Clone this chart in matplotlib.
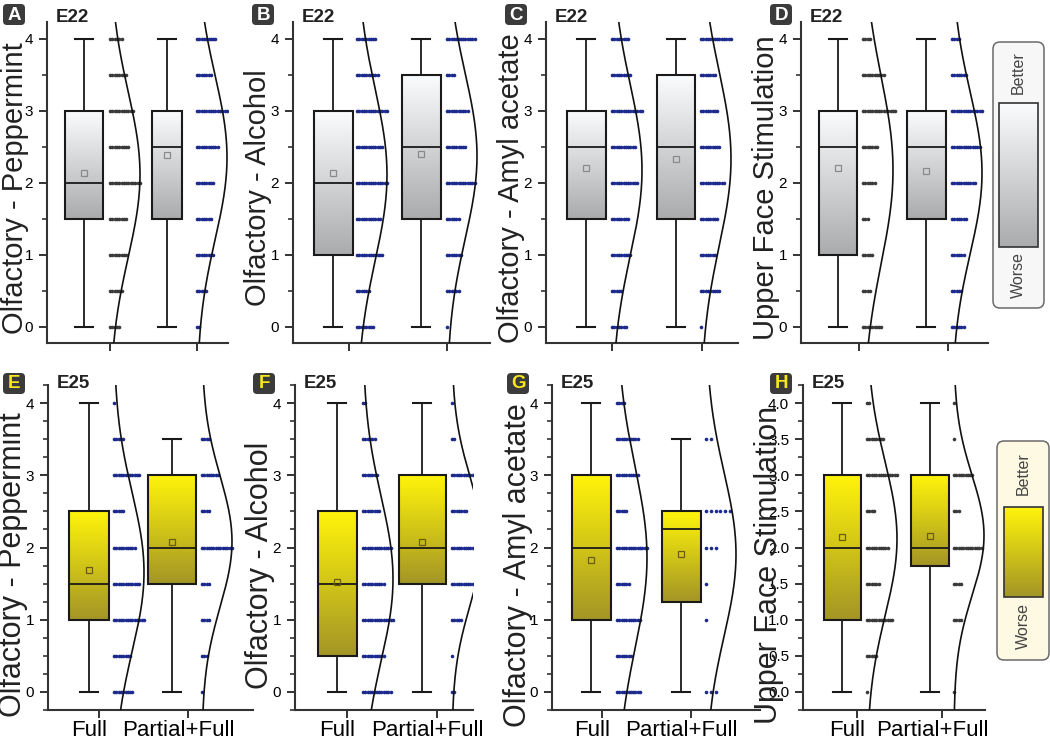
import numpy as np
import matplotlib.pyplot as plt
import matplotlib.transforms as mtransforms
from matplotlib.patches import Rectangle, FancyBboxPatch
from matplotlib.ticker import MultipleLocator, FormatStrFormatter

plt.rcParams['font.family'] = ['Liberation Sans', 'DejaVu Sans']

W, H = 1050, 743

# ---- data ----
levels = np.arange(0, 4.01, 0.5)          # rating levels 0, 0.5, ... 4
groups = ["Full", "Partial+Full"]
letters = ["A", "B", "C", "D", "E", "F", "G", "H"]
electrodes = ["E22"] * 4 + ["E25"] * 4
ylabels = ["Olfactory - Peppermint", "Olfactory - Alcohol",
           "Olfactory - Amyl acetate", "Upper Face Stimulation"] * 2

# number of subjects at each level (0 .. 4), [Full, Partial+Full]
counts = {
    "A": ([5, 6, 8, 8, 14, 9, 11, 8, 6], [2, 5, 8, 7, 8, 10, 14, 7, 9]),
    "B": ([8, 6, 12, 11, 14, 12, 14, 10, 9], [1, 6, 7, 6, 13, 9, 10, 4, 13]),
    "C": ([7, 5, 9, 8, 12, 11, 14, 9, 8], [1, 9, 7, 8, 11, 9, 8, 7, 14]),
    "D": ([9, 4, 5, 3, 6, 7, 15, 10, 4], [6, 5, 6, 7, 11, 13, 14, 7, 4]),
    "E": ([9, 8, 14, 12, 10, 5, 12, 5, 1], [1, 3, 4, 4, 14, 4, 8, 4, 0]),
    "F": ([13, 10, 14, 10, 13, 8, 7, 6, 2], [2, 1, 5, 11, 11, 7, 12, 2, 1]),
    "G": ([11, 7, 11, 6, 14, 5, 10, 10, 4], [3, 0, 1, 1, 3, 6, 0, 2, 0]),
    "H": ([1, 5, 12, 6, 10, 4, 14, 8, 2], [1, 0, 4, 4, 13, 3, 9, 1, 1]),
}

# box statistics: min, q1, median, q3, max, mean
stats = {
    "A": ([0, 1.5, 2.0, 3.0, 4, 2.13], [0, 1.5, 2.5, 3.0, 4, 2.39]),
    "B": ([0, 1.0, 2.0, 3.0, 4, 2.13], [0, 1.5, 2.5, 3.5, 4, 2.40]),
    "C": ([0, 1.5, 2.5, 3.0, 4, 2.20], [0, 1.5, 2.5, 3.5, 4, 2.33]),
    "D": ([0, 1.0, 2.5, 3.0, 4, 2.20], [0, 1.5, 2.5, 3.0, 4, 2.16]),
    "E": ([0, 1.0, 1.5, 2.5, 4, 1.69], [0, 1.5, 2.0, 3.0, 3.5, 2.07]),
    "F": ([0, 0.5, 1.5, 2.5, 4, 1.52], [0, 1.5, 2.0, 3.0, 4, 2.07]),
    "G": ([0, 1.0, 2.0, 3.0, 4, 1.83], [0, 1.25, 2.25, 2.5, 3.5, 1.91]),
    "H": ([0, 1.0, 2.0, 3.0, 4, 2.14], [0, 1.75, 2.0, 3.0, 4, 2.16]),
}

# ---- layout (pixels) ----
# left, right, tick1, tick2
frame = {
    "A": (47, 228, 110, 197), "B": (293, 490, 349, 447),
    "C": (546, 738, 612, 702), "D": (801, 988, 859, 948),
    "E": (48, 253, 99, 188), "F": (295, 473, 347, 437),
    "G": (552, 760, 602, 691), "H": (803, 985, 857, 942),
}
# (box offset, box width, dots start) per group, relative to tick
place = {
    "A": ((-26, 38, 0), (-30, 30, 0)), "B": ((-16, 39, 8), (-26, 39, 0)),
    "C": ((-26, 39, 0), (-26, 38, -1)), "D": ((-21, 38, 4), (-22, 39, 4)),
    "E": ((-10, 40, 15), (-16, 48, 14)), "F": ((-10, 39, 16), (-15, 47, 15)),
    "G": ((-11, 39, 15), (-10, 39, 15)), "H": ((-15, 37, 10), (-12, 38, 12)),
}
dot_gap = {"G": (2.3, 4.8)}
dark_dots = {("A", 0), ("D", 0), ("H", 0), ("H", 1)}
label_x = {"A": 15, "B": 258, "C": 511, "D": 766,
           "E": 13, "F": 260, "G": 518, "H": 769}
letter_x = {"A": 3, "B": 252, "C": 505, "D": 770,
            "E": 3, "F": 253, "G": 507, "H": 770}

BLUE = "#1b2a8c"
DARK = "#3a3a3a"


def gradient(top, bottom):
    t = np.linspace(0, 1, 200)[:, None]
    a = np.array(plt.matplotlib.colors.to_rgb(top))
    b = np.array(plt.matplotlib.colors.to_rgb(bottom))
    return (a * (1 - t) + b * t)[:, None, :]


grey_grad = gradient("#fbfcfd", "#a9abad")
yellow_grad = gradient("#fff40a", "#a39526")

fig = plt.figure(figsize=(W / 100, H / 100), dpi=100)
shift = mtransforms.ScaledTranslation(-10 / 100, 0, fig.dpi_scale_trans)

for i, key in enumerate(letters):
    top_row = i < 4
    left, right, t1, t2 = frame[key]
    ytop, ybot = (22, 343) if top_row else (385, 710)
    ylim = (-0.226, 4.232) if top_row else (-0.254, 4.254)
    s = t2 - t1
    ax = fig.add_axes([left / W, (H - ybot) / H, (right - left) / W, (ybot - ytop) / H])
    ax.set_xlim(1 - (t1 - left) / s, 2 + (right - t2) / s)
    ax.set_ylim(*ylim)

    grad = grey_grad if top_row else yellow_grad
    mean_col = "#8a8a8a" if top_row else "#6b5d10"
    for g in range(2):
        pos = g + 1
        off, bw, ds = place[key][g]
        lo, q1, med, q3, hi, mean = stats[key][g]
        bc = pos + off / s
        half = bw / 2 / s
        ax.imshow(grad, extent=[bc - half, bc + half, q1, q3], aspect="auto", zorder=2)
        ax.add_patch(Rectangle((bc - half, q1), 2 * half, q3 - q1, fill=False,
                               ec="#1a1a1a", lw=1.5, zorder=3))
        ax.plot([bc - half, bc + half], [med, med], color="#1a1a1a", lw=1.3, zorder=4)
        ax.plot([bc, bc], [hi, q3], color="#1a1a1a", lw=1.3, zorder=3)
        ax.plot([bc, bc], [lo, q1], color="#1a1a1a", lw=1.3, zorder=3)
        cap = 9 / s
        for v in (lo, hi):
            ax.plot([bc - cap, bc + cap], [v, v], color="#1a1a1a", lw=1.5, zorder=3)
        ax.plot(bc, mean, marker="s", ms=4, mfc="none", mec=mean_col, mew=0.9, zorder=5)

        # stacked data points
        x0 = pos + ds / s
        gap = dot_gap.get(key, (2.3, 2.3))[g] / s
        col = DARK if (key, g) in dark_dots else BLUE
        cnt = counts[key][g]
        xs, ys = [], []
        for lv, c in zip(levels, cnt):
            for k in range(c):
                xs.append(x0 + gap * k)
                ys.append(lv)
        ax.plot(xs, ys, "o", ms=2.6, color=col, mew=0, zorder=3)

        # normal curve
        vals = np.repeat(levels, cnt)
        m, sd = vals.mean(), vals.std(ddof=1)
        yy = np.linspace(ylim[0], ylim[1], 200)
        ax.plot(x0 + 30 / s * np.exp(-(yy - m) ** 2 / (2 * sd ** 2)), yy,
                color="#111111", lw=1.2, zorder=4)

    for sp in ("top", "right"):
        ax.spines[sp].set_visible(False)
    for sp in ("left", "bottom"):
        ax.spines[sp].set_linewidth(1.5)
        ax.spines[sp].set_color("#333333")
    ax.set_xticks([1, 2])
    ax.tick_params(axis="both", which="major", direction="out", length=6, width=1.4,
                   color="#333333", labelsize=11, pad=4)
    ax.tick_params(axis="y", which="minor", direction="out", length=3.5, width=1.2,
                   color="#333333")
    if top_row:
        ax.set_xticklabels([])
        ax.yaxis.set_major_locator(MultipleLocator(1))
        ax.yaxis.set_minor_locator(MultipleLocator(0.5))
    else:
        ax.set_xticklabels(groups)
        ax.tick_params(axis="x", labelsize=16, pad=1.5)
        for lab in ax.get_xticklabels():
            lab.set_transform(lab.get_transform() + shift)
        if key == "H":
            ax.yaxis.set_major_locator(MultipleLocator(0.5))
            ax.yaxis.set_major_formatter(FormatStrFormatter("%.1f"))
        else:
            ax.yaxis.set_major_locator(MultipleLocator(1))
        ax.yaxis.set_minor_locator(MultipleLocator(0.25))

    yc = 188 if top_row else 565
    fig.text(label_x[key] / W, 1 - yc / H, ylabels[i],
             rotation=90, ha="center", va="center",
             fontsize=21 if top_row else 22, color="#222222")
    fig.text((left + 9) / W, 1 - (17 if top_row else 384) / H, electrodes[i],
             ha="left", va="center", fontsize=13.5, fontweight="bold", color="#222222")

# overlay for panel letters and the colour legends
ov = fig.add_axes([0, 0, 1, 1], zorder=10)
ov.set_xlim(0, W)
ov.set_ylim(H, 0)
ov.axis("off")
for i, key in enumerate(letters):
    top_row = i < 4
    ly = 4 if top_row else 373
    ov.add_patch(FancyBboxPatch((letter_x[key], ly), 22, 21,
                                boxstyle="round,pad=0,rounding_size=4",
                                fc="#3b3b3b", ec="none"))
    ov.text(letter_x[key] + 11, ly + 11, key, ha="center", va="center",
            fontsize=13.5, fontweight="bold",
            color="white" if top_row else "#f7e81a")

# legends
for (bx0, by0, bx1, by1, fc, ix0, iy0, ix1, iy1, grad, bet_y, wor_y) in [
        (993, 42, 1044, 308, "#f7f7f7", 999, 103, 1038, 247, grey_grad, 73, 275),
        (997, 441, 1049, 660, "#fdf9e3", 1004, 507, 1043, 597, yellow_grad, 474, 626)]:
    ov.add_patch(FancyBboxPatch((bx0, by0), bx1 - bx0, by1 - by0,
                                boxstyle="round,pad=0,rounding_size=7",
                                fc=fc, ec="#6a6a6a", lw=1.1))
    ov.imshow(grad, extent=[ix0, ix1, iy1, iy0], aspect="auto", zorder=3)
    ov.add_patch(Rectangle((ix0, iy0), ix1 - ix0, iy1 - iy0, fill=False,
                           ec="#333333", lw=1.2, zorder=4))
    cx = (bx0 + bx1) / 2
    ov.text(cx, bet_y, "Better", rotation=90, ha="center", va="center",
            fontsize=11.5, color="#444444")
    ov.text(cx, wor_y, "Worse", rotation=90, ha="center", va="center",
            fontsize=11.5, color="#444444")
ov.set_xlim(0, W)
ov.set_ylim(H, 0)

fig.savefig("out.png", dpi=100)
